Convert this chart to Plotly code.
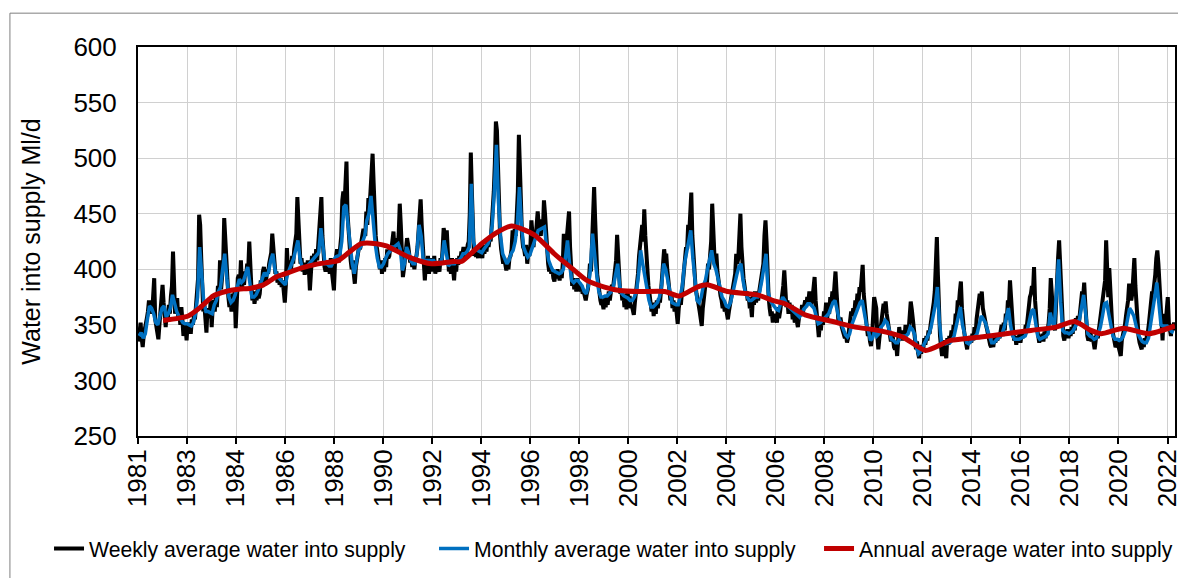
import plotly.graph_objects as go

# ---------------- data ----------------
first_year = 1981
# weekly series, sampled twice per month (24 values per year)
weekly_avg = [
    335, 347, 352, 338, 330, 341, 345, 350, 356, 362, 372, 366, 368, 360, 375, 392, 355, 350, 344, 337, 350, 362, 372, 386,  # 1981
    370, 352, 348, 362, 355, 368, 360, 376, 385, 416, 372, 360, 368, 374, 356, 362, 350, 366, 354, 340, 352, 348, 336, 352,  # 1982
    346, 352, 342, 355, 350, 358, 355, 368, 372, 392, 449, 440, 410, 380, 362, 368, 358, 343, 365, 360, 356, 372, 348, 366,  # 1983
    372, 362, 378, 366, 385, 378, 408, 382, 398, 405, 446, 425, 402, 385, 375, 366, 372, 362, 378, 372, 380, 347, 385, 392,  # 1984
    395, 385, 408, 382, 392, 386, 398, 394, 405, 400, 425, 396, 384, 372, 380, 369, 376, 372, 382, 374, 378, 390, 384, 398,  # 1985
    402, 392, 388, 400, 396, 405, 410, 415, 432, 418, 404, 396, 398, 388, 395, 386, 392, 384, 390, 382, 370, 386, 419, 400,  # 1986
    398, 408, 400, 412, 405, 418, 425, 432, 465, 440, 418, 405, 410, 398, 406, 395, 404, 396, 408, 400, 381, 406, 412, 404,  # 1987
    414, 406, 418, 408, 422, 428, 440, 465, 430, 410, 402, 398, 408, 400, 406, 396, 410, 398, 392, 381, 405, 412, 418, 408,  # 1988
    408, 420, 430, 462, 470, 455, 480, 497, 450, 432, 420, 408, 400, 408, 396, 387, 402, 410, 414, 420, 418, 425, 428, 435,  # 1989
    435, 430, 452, 440, 464, 455, 470, 485, 504, 478, 440, 430, 420, 412, 406, 400, 408, 396, 405, 398, 410, 402, 418, 410,  # 1990
    412, 420, 418, 426, 434, 416, 420, 428, 418, 432, 459, 440, 405, 393, 400, 408, 418, 428, 422, 414, 406, 410, 402, 408,  # 1991
    400, 410, 412, 420, 435, 448, 463, 440, 420, 395, 390, 405, 400, 412, 396, 408, 402, 410, 398, 412, 396, 404, 402, 400,  # 1992
    398, 410, 404, 418, 437, 432, 420, 435, 405, 398, 402, 396, 410, 400, 390, 405, 398, 410, 404, 412, 408, 416, 414, 420,  # 1993
    410, 418, 412, 422, 425, 450, 505, 470, 425, 412, 420, 411, 418, 410, 420, 412, 418, 410, 422, 414, 420, 416, 426, 420,  # 1994
    428, 425, 440, 452, 470, 495, 533, 525, 490, 460, 430, 418, 412, 405, 410, 402, 399, 405, 400, 410, 412, 418, 435, 430,  # 1995
    436, 430, 445, 470, 521, 490, 450, 430, 420, 418, 412, 422, 405, 415, 412, 420, 444, 425, 420, 432, 428, 440, 452, 440,  # 1996
    438, 430, 445, 436, 462, 450, 430, 412, 405, 398, 402, 396, 400, 392, 389, 396, 392, 400, 394, 390, 398, 392, 405, 432,  # 1997
    420, 405, 430, 440, 452, 420, 395, 385, 392, 382, 386, 380, 392, 384, 388, 380, 385, 378, 380, 374, 372, 378, 382, 390,  # 1998
    405, 398, 420, 440, 474, 445, 410, 395, 388, 378, 372, 368, 370, 364, 375, 366, 372, 368, 380, 372, 378, 386, 382, 392,  # 1999
    395, 408, 431, 410, 390, 378, 382, 372, 378, 366, 372, 364, 380, 370, 376, 365, 368, 360, 359, 370, 378, 385, 396, 412,  # 2000
    420, 430, 440, 425, 454, 430, 410, 395, 385, 378, 372, 362, 370, 358, 368, 360, 372, 365, 374, 370, 380, 392, 402, 418,  # 2001
    410, 414, 400, 388, 380, 372, 378, 365, 372, 362, 370, 358, 351, 365, 372, 368, 380, 390, 400, 412, 420, 418, 440, 432,  # 2002
    450, 469, 430, 412, 400, 385, 378, 370, 368, 362, 355, 349, 365, 372, 380, 390, 388, 405, 400, 412, 425, 459, 430, 415,  # 2003
    405, 414, 398, 388, 380, 376, 372, 365, 370, 362, 366, 358, 355, 362, 368, 375, 380, 385, 390, 396, 414, 405, 410, 425,  # 2004
    450, 420, 400, 392, 385, 378, 380, 372, 375, 365, 368, 357, 376, 368, 380, 370, 378, 372, 380, 388, 392, 400, 405, 430,  # 2005
    444, 425, 390, 375, 365, 358, 362, 352, 360, 355, 358, 352, 366, 356, 362, 370, 375, 385, 399, 380, 366, 372, 360, 370,  # 2006
    360, 368, 355, 362, 352, 358, 350, 348, 356, 362, 358, 368, 362, 370, 372, 366, 375, 370, 380, 372, 368, 374, 385, 393,  # 2007
    372, 360, 345, 339, 350, 345, 356, 350, 362, 358, 370, 355, 366, 360, 375, 368, 380, 372, 385, 398, 380, 360, 350, 355,  # 2008
    355, 348, 345, 340, 338, 342, 334, 338, 345, 352, 362, 358, 365, 360, 372, 365, 378, 370, 384, 380, 390, 404, 378, 365,  # 2009
    355, 348, 340, 345, 335, 331, 340, 352, 375, 370, 365, 340, 328, 338, 345, 350, 358, 369, 365, 371, 360, 352, 345, 340,  # 2010
    335, 342, 338, 330, 328, 333, 322, 336, 348, 340, 345, 336, 344, 338, 350, 342, 348, 345, 358, 371, 364, 352, 350, 338,  # 2011
    328, 335, 325, 320, 330, 324, 332, 328, 338, 332, 340, 336, 345, 342, 350, 356, 362, 370, 380, 400, 429, 395, 352, 340,  # 2012
    330, 322, 336, 330, 328, 320, 338, 332, 340, 335, 345, 338, 350, 346, 360, 356, 372, 368, 380, 389, 365, 350, 345, 338,  # 2013
    332, 328, 338, 333, 340, 334, 342, 336, 348, 340, 355, 362, 375, 378, 368, 380, 365, 358, 355, 350, 346, 340, 338, 332,  # 2014
    330, 336, 330, 338, 334, 340, 336, 342, 338, 345, 350, 340, 352, 345, 360, 355, 372, 368, 390, 375, 352, 345, 336, 340,  # 2015
    332, 340, 335, 342, 334, 340, 338, 345, 340, 350, 348, 360, 362, 375, 378, 385, 380, 402, 372, 355, 346, 340, 334, 338,  # 2016
    336, 342, 335, 344, 338, 346, 345, 352, 365, 392, 375, 355, 350, 345, 360, 388, 410, 426, 405, 378, 350, 340, 336, 344,  # 2017
    340, 346, 338, 345, 340, 348, 342, 352, 345, 356, 350, 358, 352, 362, 370, 380, 375, 388, 370, 352, 340, 336, 338, 344,  # 2018
    335, 340, 332, 328, 336, 342, 338, 346, 350, 358, 365, 372, 380, 390, 426, 395, 375, 401, 380, 360, 345, 340, 334, 330,  # 2019
    332, 338, 330, 326, 322, 336, 340, 345, 350, 358, 365, 372, 387, 380, 372, 378, 395, 410, 385, 365, 350, 340, 334, 330,  # 2020
    328, 334, 330, 338, 335, 340, 344, 352, 360, 370, 380, 378, 385, 395, 410, 417, 405, 385, 360, 345, 336, 360, 350, 352,  # 2021
    365, 375, 352, 345, 340, 350, 348, 352, 345,  # 2022
]
# monthly series (12 values per year)
monthly_avg = [
    340, 343, 338, 342, 355, 367, 365, 360, 352, 350, 358, 365,  # 1981
    367, 357, 360, 365, 377, 368, 362, 358, 355, 352, 351, 351,  # 1982
    350, 349, 352, 360, 375, 420, 395, 370, 362, 362, 361, 360,  # 1983
    368, 372, 380, 384, 400, 414, 392, 375, 370, 372, 377, 385,  # 1984
    391, 388, 390, 396, 402, 388, 375, 375, 377, 381, 387, 392,  # 1985
    397, 394, 398, 408, 414, 400, 393, 392, 390, 388, 386, 395,  # 1986
    400, 405, 410, 418, 426, 410, 402, 402, 402, 404, 406, 408,  # 1987
    410, 412, 415, 437, 420, 405, 405, 403, 403, 408, 411, 412,  # 1988
    412, 425, 456, 458, 440, 423, 405, 396, 405, 417, 420, 425,  # 1989
    430, 444, 450, 466, 440, 423, 410, 402, 402, 405, 410, 414,  # 1990
    416, 420, 420, 422, 423, 418, 399, 405, 420, 415, 408, 405,  # 1991
    405, 415, 440, 430, 408, 408, 408, 408, 408, 408, 405, 405,  # 1992
    405, 410, 426, 415, 403, 405, 405, 405, 408, 408, 410, 414,  # 1993
    414, 416, 420, 477, 425, 418, 417, 416, 415, 418, 420, 423,  # 1994
    428, 440, 470, 512, 460, 430, 414, 410, 405, 408, 414, 417,  # 1995
    425, 440, 474, 440, 420, 415, 411, 413, 418, 425, 430, 435,  # 1996
    436, 437, 438, 420, 408, 403, 399, 398, 397, 396, 397, 400,  # 1997
    410, 426, 405, 390, 388, 390, 390, 388, 385, 380, 378, 385,  # 1998
    400, 432, 410, 395, 380, 375, 375, 376, 376, 378, 380, 385,  # 1999
    395, 405, 385, 378, 376, 375, 374, 372, 372, 375, 380, 395,  # 2000
    417, 405, 395, 381, 372, 366, 366, 368, 370, 375, 385, 405,  # 2001
    400, 390, 378, 370, 369, 368, 368, 375, 385, 405, 415, 425,  # 2002
    435, 410, 390, 372, 370, 375, 385, 390, 400, 410, 417, 405,  # 2003
    400, 392, 385, 375, 372, 367, 366, 370, 378, 388, 395, 402,  # 2004
    405, 390, 380, 375, 372, 372, 374, 375, 375, 380, 390, 400,  # 2005
    414, 380, 372, 369, 366, 364, 363, 368, 375, 372, 368, 366,  # 2006
    364, 363, 360, 358, 357, 360, 364, 366, 369, 369, 367, 365,  # 2007
    358, 351, 352, 354, 356, 357, 360, 365, 370, 372, 362, 355,  # 2008
    351, 346, 341, 339, 342, 350, 355, 360, 365, 370, 372, 360,  # 2009
    351, 345, 336, 338, 345, 340, 342, 348, 350, 354, 352, 345,  # 2010
    337, 336, 334, 334, 338, 340, 340, 340, 342, 348, 346, 342,  # 2011
    330, 324, 326, 330, 334, 338, 342, 348, 358, 368, 384, 352,  # 2012
    334, 334, 333, 334, 334, 336, 340, 348, 355, 366, 350, 340,  # 2013
    334, 333, 335, 337, 340, 342, 350, 358, 355, 352, 345, 338,  # 2014
    334, 334, 336, 338, 340, 342, 348, 355, 365, 350, 340, 337,  # 2015
    337, 337, 338, 339, 340, 345, 355, 362, 364, 350, 340, 337,  # 2016
    338, 339, 340, 342, 361, 352, 349, 380, 409, 370, 345, 343,  # 2017
    343, 342, 343, 345, 349, 352, 355, 365, 377, 360, 342, 340,  # 2018
    339, 337, 338, 342, 348, 358, 369, 370, 361, 350, 340, 337,  # 2019
    337, 336, 337, 340, 345, 355, 365, 362, 358, 350, 342, 338,  # 2020
    335, 334, 334, 338, 349, 360, 375, 388, 370, 350, 349, 349,  # 2021
    349, 347, 344, 343,  # 2022
]
# annual (rolling) average: positions in years and values
annual_x = [1982.0, 1983.0, 1983.5, 1984.0, 1984.5, 1985.0, 1985.5, 1986.0, 1986.5, 1987.0,
            1987.5, 1988.0, 1988.5, 1989.0, 1989.4, 1989.9, 1990.5, 1990.9, 1991.8, 1992.7,
            1993.6, 1993.9, 1994.7, 1995.3, 1995.9, 1996.8, 1997.6, 1997.8, 1998.4, 1998.9,
            1999.6, 2000.2, 2001.0, 2002.0, 2002.6, 2003.3, 2003.7, 2004.5, 2005.7, 2006.3,
            2006.8, 2007.6, 2008.7, 2009.6, 2010.5, 2011.5, 2012.4, 2013.4, 2014.6, 2015.6,
            2016.6, 2017.6, 2018.35, 2019.0, 2019.4, 2020.3, 2021.3, 2022.35]
annual_avg = [354, 358, 366, 376, 380, 382, 383, 386, 393, 397,
              401, 404, 406, 408, 415, 423, 423, 421, 411, 405,
              407, 407, 423, 433, 439, 431, 414, 410, 399, 390,
              384, 381, 380, 380, 376, 384, 386, 380, 377, 372,
              369, 359, 353, 348, 345, 339, 327, 336, 339, 342,
              345, 348, 353, 345, 342, 347, 342, 349]
tick_labels = ["1981", "1983", "1984", "1986", "1988", "1990", "1992", "1994", "1996", "1998", "2000",
               "2002", "2004", "2006", "2008", "2010", "2012", "2014", "2016", "2018", "2020", "2022"]

# ---------------- positions on the time axis ----------------
weekly_x = [first_year + i / 24 + 1 / 48 for i in range(len(weekly_avg))]
monthly_x = [first_year + i / 12 + 1 / 24 for i in range(len(monthly_avg))]
x_start, x_end = 1981.0, 2022.35
tick_step = (x_end - x_start) * 49 / 1036.5
tick_vals = [x_start + k * tick_step for k in range(len(tick_labels))]

FONT = "Liberation Sans, Arial, sans-serif"

fig = go.Figure()
fig.add_trace(go.Scatter(x=weekly_x, y=weekly_avg, mode="lines",
                         name="Weekly average water into supply",
                         line=dict(color="#000000", width=4)))
fig.add_trace(go.Scatter(x=monthly_x, y=monthly_avg, mode="lines",
                         name="Monthly average water into supply",
                         line=dict(color="#0070C0", width=3.5)))
fig.add_trace(go.Scatter(x=annual_x, y=annual_avg, mode="lines",
                         name="Annual average water into supply",
                         line=dict(color="#C00000", width=5, shape="spline", smoothing=0.6)))

fig.update_layout(
    width=1178, height=578,
    margin=dict(l=138, r=3, t=47, b=142, autoexpand=False),
    paper_bgcolor="white", plot_bgcolor="white",
    font=dict(family=FONT, color="#000000"),
    showlegend=True,
    legend=dict(orientation="h", x=-0.0858, y=-0.29, xanchor="left", yanchor="middle",
                font=dict(size=21.2, family=FONT), bgcolor="rgba(0,0,0,0)",
                entrywidth=340, entrywidthmode="pixels", tracegroupgap=0),
    xaxis=dict(range=[x_start, x_end], tickmode="array", tickvals=tick_vals, ticktext=tick_labels,
               tickangle=-90, tickfont=dict(size=26, family=FONT),
               showgrid=True, gridcolor="#D0D0D0", gridwidth=1,
               showline=True, linecolor="#000000", linewidth=2, mirror=True,
               ticks="outside", ticklen=6, tickcolor="#000000", tickwidth=1.5,
               ticklabelstandoff=-5, ticklabeloverflow="allow",
               zeroline=False, automargin=False),
    yaxis=dict(range=[250, 600], tickmode="linear", tick0=250, dtick=50,
               tickfont=dict(size=26, family=FONT),
               title=dict(text="Water into supply Ml/d", font=dict(size=25, family=FONT), standoff=26),
               showgrid=True, gridcolor="#D0D0D0", gridwidth=1,
               showline=True, linecolor="#000000", linewidth=2, mirror=True,
               ticks="", ticklabelstandoff=14, zeroline=False, automargin=False),
)
# outer chart border
fig.add_shape(type="rect", xref="paper", yref="paper",
              x0=-0.1235, x1=1.02, y0=-0.42, y1=1.087,
              line=dict(color="#7F7F7F", width=1), fillcolor="rgba(0,0,0,0)", layer="below")

# the page is photographed at exactly the figure size: remove the default body margin
fig.write_html("out.html", config={"displayModeBar": False},
               post_script="document.body.style.margin='0';document.body.style.overflow='hidden';")
